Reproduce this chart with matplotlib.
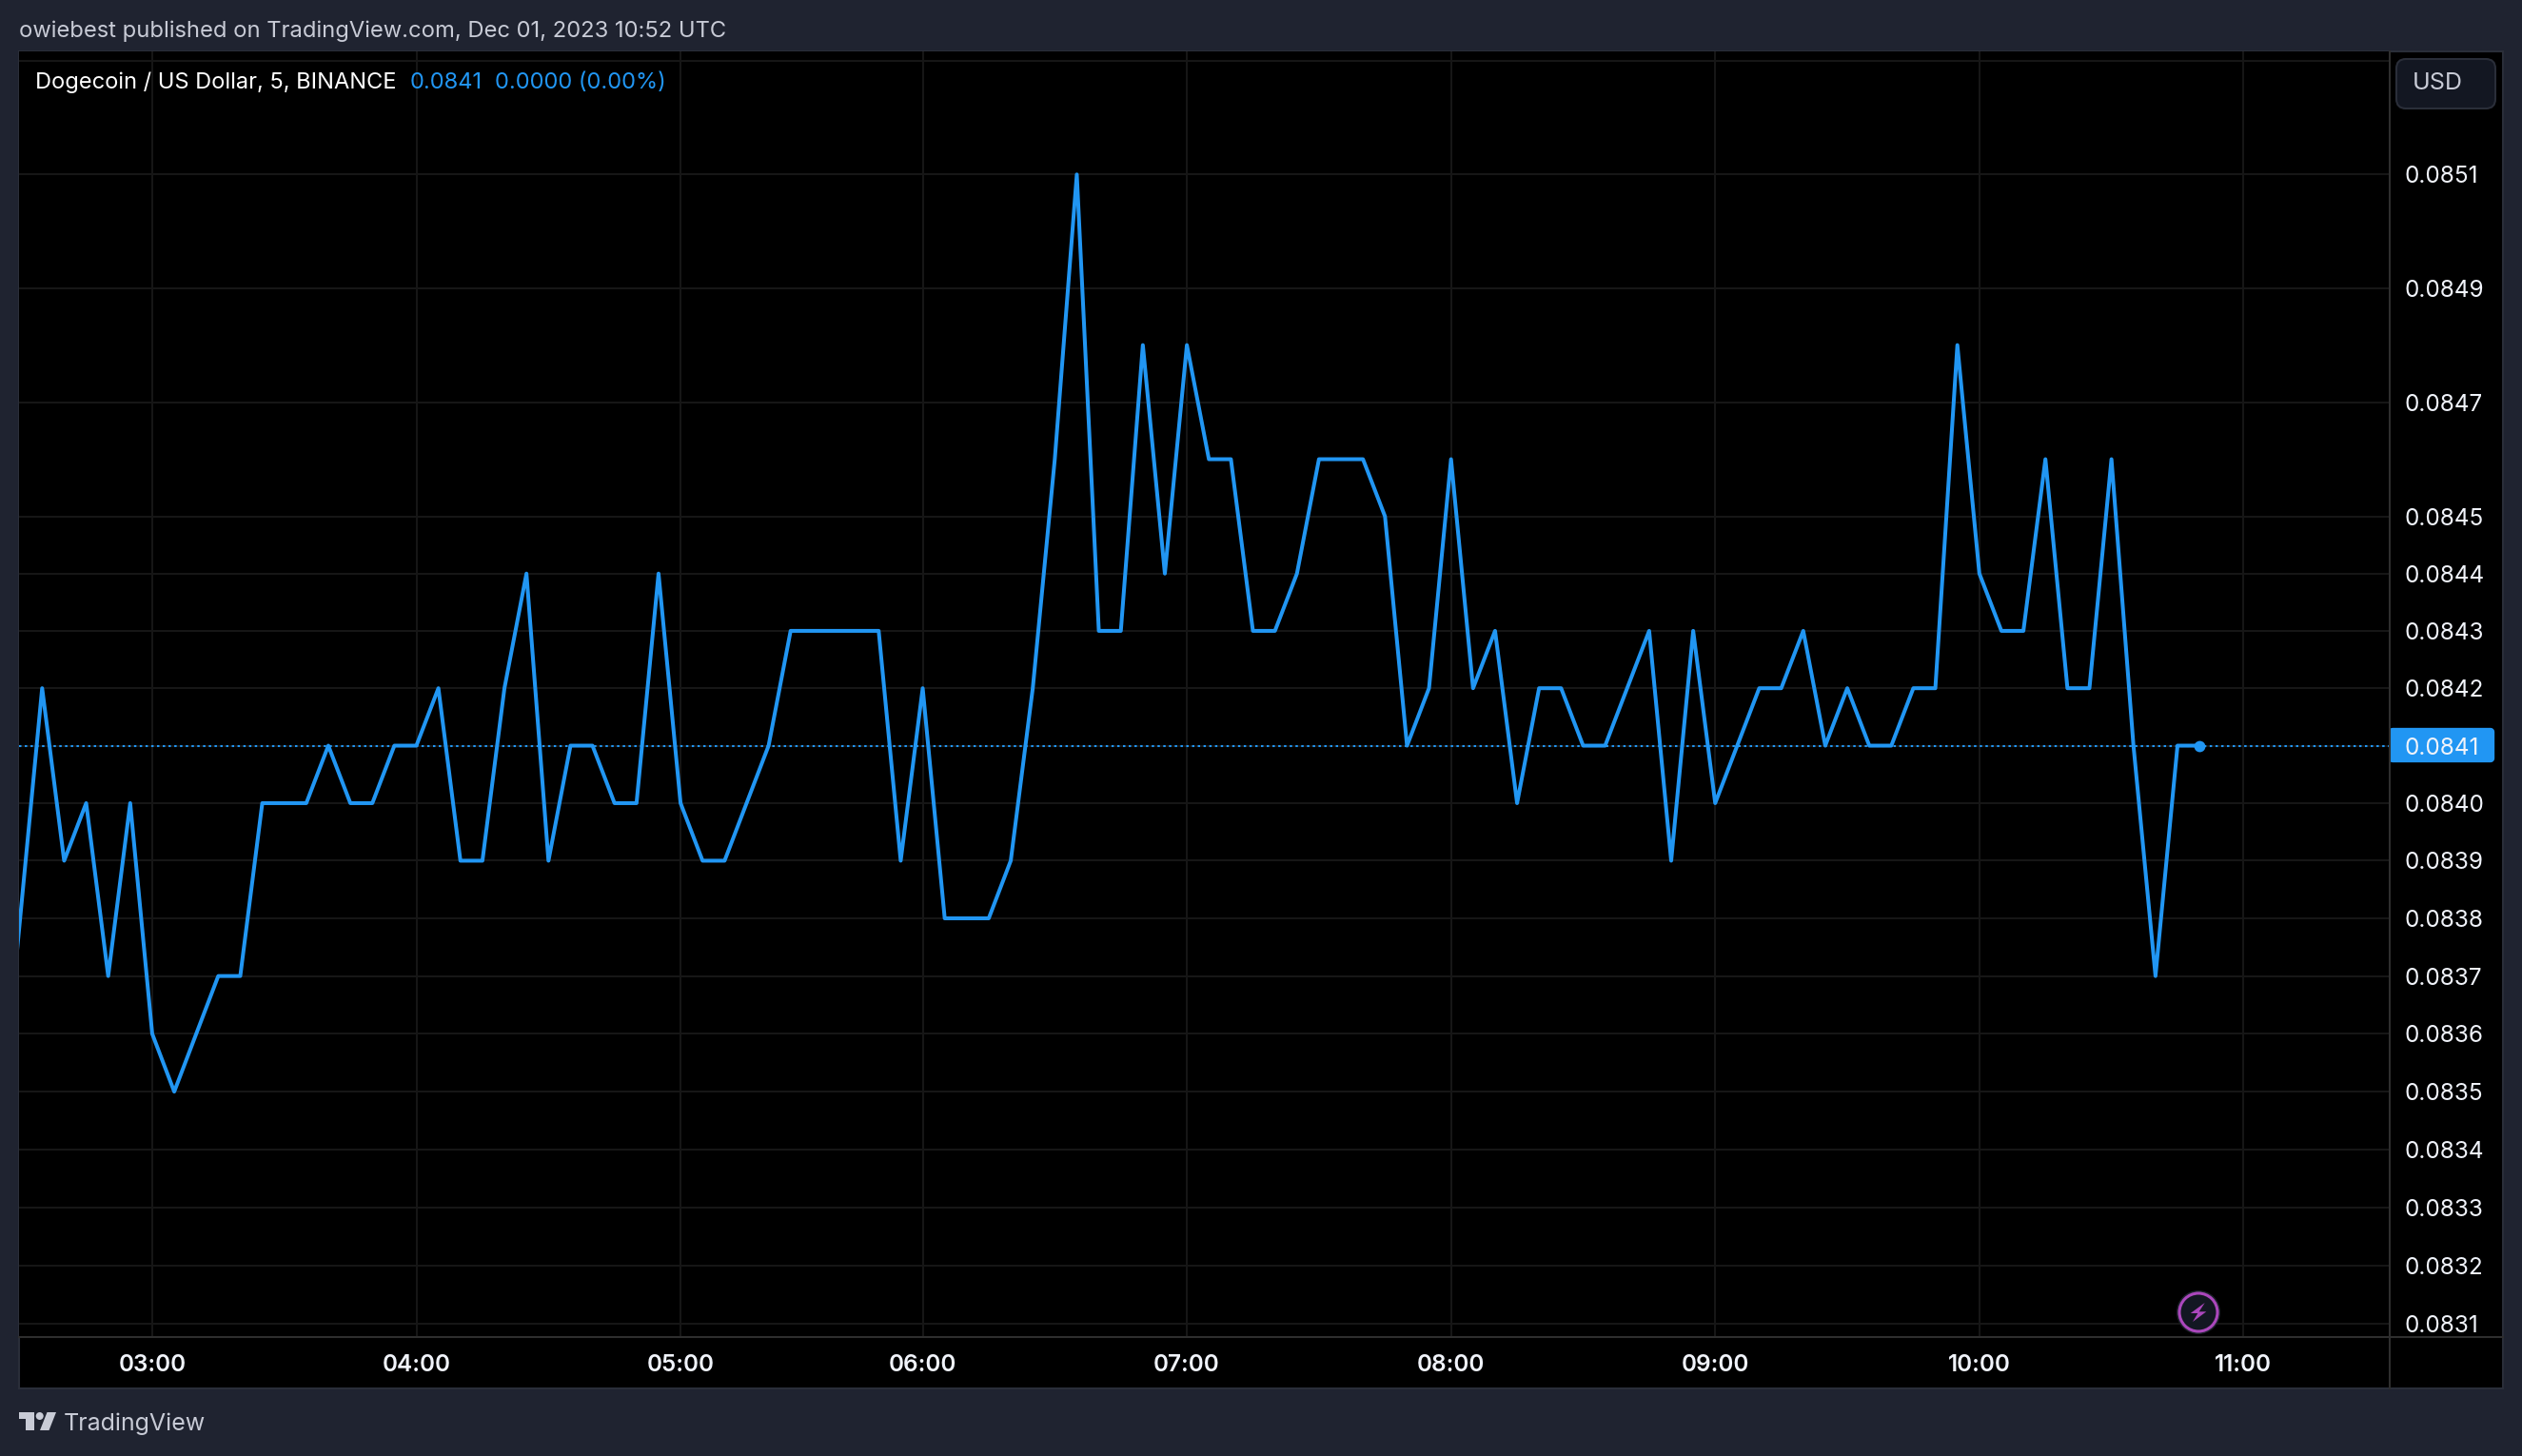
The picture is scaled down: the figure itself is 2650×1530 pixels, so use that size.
import matplotlib
matplotlib.use("Agg")
import matplotlib.pyplot as plt
from matplotlib.patches import Rectangle, FancyBboxPatch, Circle, Polygon
from matplotlib.lines import Line2D
from matplotlib.ticker import NullLocator
from matplotlib.transforms import Affine2D

# ---- data ----
bar_index = list(range(-7, 94))
prices = [0.0834, 0.0838, 0.0842, 0.0839, 0.0840, 0.0837, 0.0840,
          0.0836, 0.0835, 0.0836, 0.0837, 0.0837, 0.0840, 0.0840, 0.0840, 0.0841, 0.0840, 0.0840, 0.0841,
          0.0841, 0.0842, 0.0839, 0.0839, 0.0842, 0.0844, 0.0839, 0.0841, 0.0841, 0.0840, 0.0840, 0.0844,
          0.0840, 0.0839, 0.0839, 0.0840, 0.0841, 0.0843, 0.0843, 0.0843, 0.0843, 0.0843, 0.0839,
          0.0842, 0.0838, 0.0838, 0.0838, 0.0839, 0.0842, 0.0846, 0.0851, 0.0843, 0.0843, 0.0848, 0.0844,
          0.0848, 0.0846, 0.0846, 0.0843, 0.0843, 0.0844, 0.0846, 0.0846, 0.0846, 0.0845, 0.0841, 0.0842,
          0.0846, 0.0842, 0.0843, 0.0840, 0.0842, 0.0842, 0.0841, 0.0841, 0.0842, 0.0843, 0.0839, 0.0843,
          0.0840, 0.0841, 0.0842, 0.0842, 0.0843, 0.0841, 0.0842, 0.0841, 0.0841, 0.0842, 0.0842, 0.0848,
          0.0844, 0.0843, 0.0843, 0.0846, 0.0842, 0.0842, 0.0846, 0.0841, 0.0837, 0.0841, 0.0841]
last_price = 0.0841
time_ticks = [0, 12, 24, 35, 47, 59, 71, 83, 95]
time_labels = ["03:00", "04:00", "05:00", "06:00", "07:00", "08:00", "09:00", "10:00", "11:00"]
price_ticks = [0.0851, 0.0849, 0.0847, 0.0845, 0.0844, 0.0843, 0.0842, 0.0841, 0.0840, 0.0839,
               0.0838, 0.0837, 0.0836, 0.0835, 0.0834, 0.0833, 0.0832, 0.0831]
extra_grid = [0.0853]
x_limits = (-6.05, 101.64)
y_limits = (0.083077, 0.085317)

# ---- colours ----
BG = "#1f2330"
BORDER = "#2a2e39"
AXLINE = "#2e2e2e"
GRID = "#161616"
BLUE = "#2196f3"
MUTED = "#c8cbd6"
W, H = 2650, 1530
plt.rcParams["font.family"] = ["Inter", "DejaVu Sans"]

fig = plt.figure(figsize=(W / 100, H / 100), dpi=100, facecolor=BG)
px = Affine2D().scale(1 / W, -1 / H).translate(0, 1) + fig.transFigure


def ptext(x, y, s, **kw):
    return fig.text(x, y, s, transform=px, va="center", **kw)


# panel
fig.add_artist(Rectangle((20, 54), 2610, 1405, transform=px, fc="black", ec=BORDER, lw=1.5, zorder=-3))
# last price label
fig.add_artist(FancyBboxPatch((2514, 769), 103, 28, boxstyle="round,pad=0,rounding_size=0", transform=px,
                              fc=BLUE, ec=BLUE, lw=6, joinstyle="round", zorder=-2))
fig.add_artist(Rectangle((2510, 766), 10, 34, transform=px, fc=BLUE, ec="none", zorder=-2))

ax = fig.add_axes([20 / W, 1 - 1405 / H, (2511 - 20) / W, (1405 - 54) / H], facecolor="black")
ax.set_yscale("log")
ax.plot(bar_index, prices, color=BLUE, lw=2.9, solid_joinstyle="round", zorder=3)
ax.axhline(last_price, color=BLUE, lw=1.5, ls=(0, (1.2, 1.7)), zorder=2)
ax.plot(bar_index[-1], prices[-1], "o", color=BLUE, ms=8.5, mew=0, zorder=4)
ax.set_xlim(*x_limits)
ax.set_ylim(*y_limits)
ax.set_xticks(time_ticks, time_labels)
ax.set_yticks(price_ticks, [f"{p:.4f}" for p in price_ticks])
ax.yaxis.set_minor_locator(NullLocator())
ax.yaxis.tick_right()
ax.grid(True, color=GRID, lw=1.5, zorder=0)
for g in extra_grid:
    ax.axhline(g, color=GRID, lw=1.5, zorder=0)
ax.set_axisbelow(True)
ax.tick_params(axis="y", length=0, pad=11.5, labelsize=17.5, labelcolor="#f0f3fa")
ax.tick_params(axis="x", length=0, pad=13, labelsize=17.5, labelcolor="#f0f3fa")
for lab in ax.get_xticklabels():
    lab.set_fontweight("semibold")
for s in ax.spines.values():
    s.set_visible(False)

# structure lines
fig.add_artist(Line2D([20, 2630], [1405, 1405], transform=px, color=AXLINE, lw=1.5, zorder=5))
fig.add_artist(Line2D([2511, 2511], [54, 1459], transform=px, color=AXLINE, lw=1.5, zorder=5))

# texts
ptext(20, 33, "owiebest published on TradingView.com, Dec 01, 2023 10:52 UTC", color=MUTED, fontsize=17.1)
ptext(37, 87, "Dogecoin / US Dollar, 5, BINANCE", color="white", fontsize=17)
ptext(431, 87, "0.0841", color=BLUE, fontsize=17)
ptext(520, 87, "0.0000 (0.00%)", color=BLUE, fontsize=17)

# USD box
fig.add_artist(FancyBboxPatch((2518, 62), 104, 52, boxstyle="round,pad=0,rounding_size=10", transform=px,
                              fc="#131722", ec=BORDER, lw=1.5, zorder=5))
t = ptext(2561, 87, "USD", color=MUTED, fontsize=18, ha="center", zorder=6)

# bolt icon
fig.add_artist(Circle((2310, 1379), 23, transform=px, fc="#1e222d", ec="none", zorder=6))
fig.add_artist(Circle((2310, 1379), 20, transform=px, fc="#131722", ec="#ab47bc", lw=2.2, zorder=7))
fig.add_artist(Polygon([(2316.7, 1369), (2301.7, 1380), (2309.3, 1380), (2304, 1389), (2318.3, 1378.3),
                        (2310.7, 1378.3)], closed=True, transform=px, fc="#ab47bc", ec="none", zorder=8))

# TradingView logo
fig.add_artist(Polygon([(20, 1484), (36, 1484), (36, 1503), (27, 1503), (27, 1491), (20, 1491)],
                       closed=True, transform=px, fc=MUTED, ec="none"))
fig.add_artist(Circle((41.7, 1488), 4, transform=px, fc=MUTED, ec="none"))
fig.add_artist(Polygon([(49.5, 1484), (59, 1484), (51.5, 1503), (42, 1503)], closed=True, transform=px,
                       fc=MUTED, ec="none"))
ptext(67, 1496, "TradingView", color=MUTED, fontsize=18)

fig.savefig("out.png", dpi=100, facecolor=BG)
